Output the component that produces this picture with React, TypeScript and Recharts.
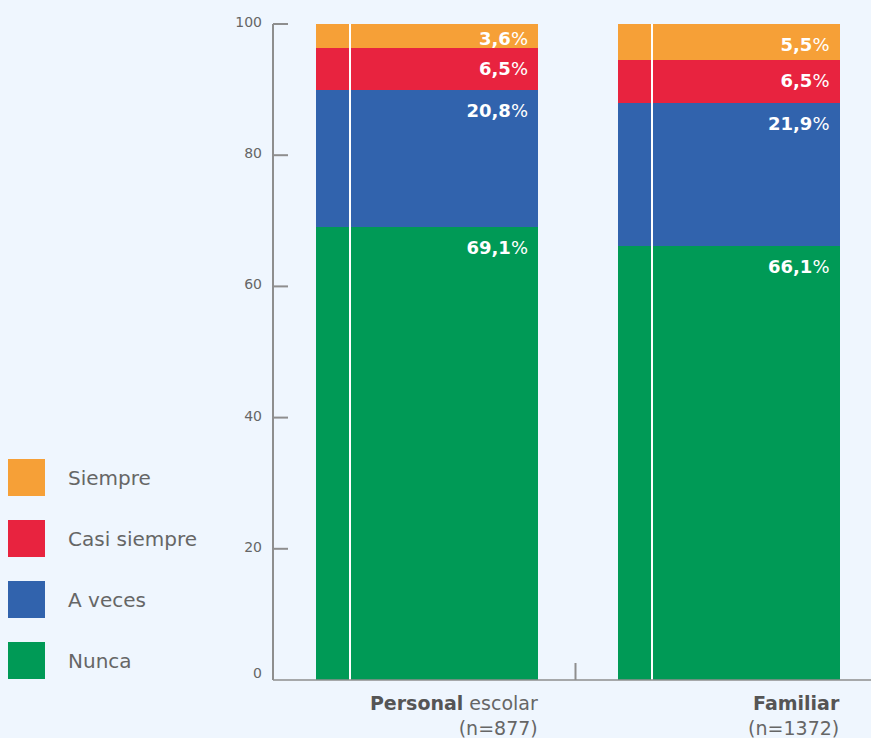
import React from 'react';
import { BarChart, Bar, XAxis, YAxis, Legend, LabelList } from 'recharts';

const categories = ['Personal escolar', 'Familiar'];
const categoryBold = ['Personal', 'Familiar'];
const categoryRest = [' escolar', ''];
const sampleSizes = ['(n=877)', '(n=1372)'];

const nunca = [69.1, 66.1];
const aVeces = [20.8, 21.9];
const casiSiempre = [6.5, 6.5];
const siempre = [3.6, 5.5];

const yTicks = [0, 20, 40, 60, 80, 100];

const FONT = '"DejaVu Sans", sans-serif';
const AXIS_COLOR = '#8e8e8e';
const BAR_SIZE = 222;

const series = [
  { key: 'nunca', name: 'Nunca', color: '#009a56' },
  { key: 'aVeces', name: 'A veces', color: '#3163ad' },
  { key: 'casiSiempre', name: 'Casi siempre', color: '#e8233f' },
  { key: 'siempre', name: 'Siempre', color: '#f6a037' },
];

const data = categories.map((category, i) => ({
  category,
  nunca: nunca[i],
  aVeces: aVeces[i],
  casiSiempre: casiSiempre[i],
  siempre: siempre[i],
}));

// bar segment with the thin white stripe near its left edge
const SegmentShape = (props: any) => {
  const { x, y, width, height, fill } = props;
  return (
    <g shapeRendering="crispEdges">
      <rect x={x} y={y} width={width} height={height} fill={fill} />
      <rect x={x + 33} y={y} width={2} height={height} fill="#ffffff" />
    </g>
  );
};

const PctLabel = (props: any) => {
  const vb = props.viewBox ?? props;
  const { x, y, width, height } = vb;
  const value = Number(props.value);
  const cy = y + Math.min(20, height * 0.6);
  return (
    <text
      x={x + width - 10}
      y={cy}
      textAnchor="end"
      dominantBaseline="central"
      fill="#ffffff"
      fontSize={18}
      fontFamily={FONT}
    >
      <tspan fontWeight={700}>{value.toFixed(1).replace('.', ',')}</tspan>
      <tspan fontWeight={400}>%</tspan>
    </text>
  );
};

const YTick = (props: any) => {
  const { x, y, payload } = props;
  const isZero = payload.value === 0;
  return (
    <g>
      {!isZero && (
        <line x1={x} x2={x + 15} y1={y} y2={y} stroke={AXIS_COLOR} strokeWidth={2} />
      )}
      <text
        x={x - 11}
        y={isZero ? y - 7 : y - 2}
        textAnchor="end"
        dominantBaseline="central"
        fill="#666"
        fontSize={14}
        fontFamily={FONT}
      >
        {payload.value}
      </text>
    </g>
  );
};

const XTick = (props: any) => {
  const { x, y, payload } = props;
  const i = categories.indexOf(payload.value);
  const right = x + BAR_SIZE / 2;
  const boundary = x + (payload.offset ?? 150);
  return (
    <g>
      {i === 0 && (
        <line x1={boundary - 2} x2={boundary - 2} y1={y - 17} y2={y} stroke={AXIS_COLOR} strokeWidth={2} />
      )}
      <text x={right} y={y + 23} textAnchor="end" dominantBaseline="central" fontSize={19} fontFamily={FONT}>
        <tspan fontWeight={700} fill="#555">{categoryBold[i]}</tspan>
        <tspan fontWeight={400} fill="#666">{categoryRest[i]}</tspan>
      </text>
      <text x={right} y={y + 48} textAnchor="end" dominantBaseline="central" fontSize={19} fill="#666" fontFamily={FONT}>
        {sampleSizes[i]}
      </text>
    </g>
  );
};

// legend listed top to bottom in the reverse of the stacking order
const LegendContent = () => {
  const items = [...series].reverse();
  return (
    <div style={{ position: 'relative', width: 230, height: 240 }}>
      {items.map((item, i) => (
        <div key={item.key} style={{ position: 'absolute', left: 8, top: i * 61, height: 37, display: 'flex', alignItems: 'center' }}>
          <div style={{ width: 37, height: 37, background: item.color }} />
          <span style={{ marginLeft: 23, fontSize: 20, color: '#666', fontFamily: FONT, whiteSpace: 'nowrap' }}>{item.name}</span>
        </div>
      ))}
    </div>
  );
};

export default function App() {
  return (
    <div style={{ position: 'absolute', left: 0, top: 0, width: 871, height: 738, background: '#eff6fe', overflow: 'hidden' }}>
      <BarChart
        width={871}
        height={738}
        data={data}
        margin={{ top: 24, right: -8, bottom: 0, left: 233 }}
        barSize={BAR_SIZE}
      >
        <XAxis
          dataKey="category"
          axisLine={{ stroke: AXIS_COLOR, strokeWidth: 1.5 }}
          tickLine={false}
          tickSize={0}
          tickMargin={0}
          padding={{ left: 3, right: 0 }}
          tick={<XTick />}
          interval={0}
          height={58}
        />
        <YAxis
          domain={[0, 100]}
          ticks={yTicks}
          width={40}
          axisLine={{ stroke: AXIS_COLOR, strokeWidth: 2 }}
          tickLine={false}
          tickSize={0}
          tickMargin={0}
          tick={<YTick />}
          interval={0}
        />
        <Legend
          layout="vertical"
          align="center"
          verticalAlign="middle"
          wrapperStyle={{ left: 0, top: 459, width: 230, height: 240 }}
          content={<LegendContent />}
        />
        {series.map((s) => (
          <Bar
            key={s.key}
            dataKey={s.key}
            name={s.name}
            stackId="a"
            fill={s.color}
            shape={<SegmentShape />}
            isAnimationActive={false}
          >
            <LabelList dataKey={s.key} content={<PctLabel />} />
          </Bar>
        ))}
      </BarChart>
    </div>
  );
}
